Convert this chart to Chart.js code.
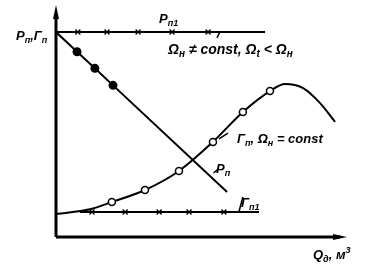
<!DOCTYPE html>
<html>
<head>
<meta charset="utf-8">
<script src="https://cdn.jsdelivr.net/npm/chart.js@4"></script>
<style>
  body { margin: 0; background: #fff; }
  #wrap { width: 369px; height: 265px; position: relative; }
</style>
</head>
<body>
<div id="wrap"><canvas id="myChart"></canvas></div>
<script>
// values (arbitrary units, origin at axes corner, 0..100)
const pn1X = [0, 7.6, 17.7, 28.5, 40.3, 52.8, 72.6];
const pn1Y = [90.3, 90.3, 90.3, 90.3, 90.3, 90.3, 90.3];

const pnX = [0, 7.3, 13.5, 19.8, 59.4];
const pnY = [90.3, 81.6, 74.3, 66.8, 19.8];

const gnX = [0, 11.8, 19.4, 30.9, 42.7, 54.5, 64.9, 74.3, 79.5, 85.8, 91.7, 96.9];
const gnY = [10.1, 12.2, 15.4, 20.7, 29.1, 41.9, 55.1, 64.3, 67.4, 65.6, 59.0, 50.7];
const gnMarked = [false, false, true, true, true, true, true, true, false, false, false, false];

const gn1X = [8.3, 12.5, 24.0, 35.8, 46.2, 58.3, 70.5];
const gn1Y = [11.0, 11.0, 11.0, 11.0, 11.0, 11.0, 11.0];

function pts(xs, ys) {
  return xs.map((x, i) => ({ x: x, y: ys[i] }));
}

// little leader strokes from curves to their labels, in data units
const leaders = [
  [[56.9, 90.3], [55.9, 87.7]],
  [[56.6, 43.2], [59.7, 45.8]],
  [[54.7, 28.2], [56.4, 30.0]],
  [[63.5, 11.0], [64.9, 17.6]]
];

function drawLabel(ctx, x, y, parts, size) {
  // parts: [text, kind] where kind n = normal, s = subscript, p = superscript
  size = size || 13;
  const small = Math.round(size * 0.7);
  let cx = x;
  parts.forEach(p => {
    const txt = p[0], kind = p[1];
    if (kind === 'n') {
      ctx.font = 'italic bold ' + size + 'px "Liberation Sans"';
      ctx.fillText(txt, cx, y);
    } else if (kind === 's') {
      ctx.font = 'italic bold ' + small + 'px "Liberation Sans"';
      ctx.fillText(txt, cx, y + 3);
    } else {
      ctx.font = 'italic bold ' + small + 'px "Liberation Sans"';
      ctx.fillText(txt, cx, y - 6);
    }
    cx += ctx.measureText(txt).width;
  });
}

const axesPlugin = {
  id: 'axesPlugin',
  afterDatasetsDraw(chart) {
    const ctx = chart.ctx;
    const xs = chart.scales.x, ys = chart.scales.y;
    const x0 = xs.getPixelForValue(0), y0 = ys.getPixelForValue(0);
    ctx.save();
    ctx.strokeStyle = '#000';
    ctx.fillStyle = '#000';
    ctx.lineWidth = 3;
    ctx.beginPath();
    ctx.moveTo(x0, y0);
    ctx.lineTo(x0, 14);
    ctx.moveTo(x0, y0);
    ctx.lineTo(340, y0);
    ctx.stroke();
    // arrow heads
    ctx.beginPath();
    ctx.moveTo(x0, 5);
    ctx.lineTo(x0 - 3, 19);
    ctx.lineTo(x0 + 3, 19);
    ctx.closePath();
    ctx.fill();
    ctx.beginPath();
    ctx.moveTo(347, y0);
    ctx.lineTo(333, y0 - 3);
    ctx.lineTo(333, y0 + 3);
    ctx.closePath();
    ctx.fill();

    // leaders
    ctx.lineWidth = 1.5;
    leaders.forEach(l => {
      ctx.beginPath();
      ctx.moveTo(xs.getPixelForValue(l[0][0]), ys.getPixelForValue(l[0][1]));
      ctx.lineTo(xs.getPixelForValue(l[1][0]), ys.getPixelForValue(l[1][1]));
      ctx.stroke();
    });

    // labels
    ctx.textBaseline = 'alphabetic';
    drawLabel(ctx, 16, 40, [['Р', 'n'], ['п', 's'], [',Г', 'n'], ['п', 's']]);
    drawLabel(ctx, 159, 23, [['Р', 'n'], ['п1', 's']]);
    drawLabel(ctx, 168, 54, [['Ω', 'n'], ['н', 's'], [' ≠ const, Ω', 'n'], ['t', 's'], [' < Ω', 'n'], ['н', 's']], 14);
    drawLabel(ctx, 237, 143, [['Г', 'n'], ['п', 's'], [', Ω', 'n'], ['н', 's'], [' = const', 'n']]);
    drawLabel(ctx, 216, 173, [['Р', 'n'], ['п', 's']]);
    drawLabel(ctx, 241, 207, [['Г', 'n'], ['п1', 's']]);
    drawLabel(ctx, 313, 259, [['Q', 'n'], ['д', 's'], [', м', 'n'], ['3', 'p']]);
    ctx.restore();
  }
};

new Chart(
  document.getElementById('myChart'),
  {
    type: 'line',
    data: {
      datasets: [
        {
          label: 'Рп1',
          data: pts(pn1X, pn1Y),
          borderColor: '#000',
          borderWidth: 2,
          pointStyle: 'crossRot',
          pointRadius: pn1X.map((x, i) => (i === 0 || i === pn1X.length - 1) ? 0 : 3.5),
          pointBorderWidth: 1.3,
          pointBorderColor: '#000',
          tension: 0
        },
        {
          label: 'Рп',
          data: pts(pnX, pnY),
          borderColor: '#000',
          borderWidth: 2,
          pointRadius: pnX.map((x, i) => (i === 0 || i === pnX.length - 1) ? 0 : 3.5),
          pointBackgroundColor: '#000',
          pointBorderColor: '#000',
          tension: 0
        },
        {
          label: 'Гп',
          data: pts(gnX, gnY),
          borderColor: '#000',
          borderWidth: 2,
          pointRadius: gnMarked.map(m => m ? 3.5 : 0),
          pointBackgroundColor: '#fff',
          pointBorderColor: '#000',
          pointBorderWidth: 1.5,
          cubicInterpolationMode: 'monotone'
        },
        {
          label: 'Гп1',
          data: pts(gn1X, gn1Y),
          borderColor: '#000',
          borderWidth: 2,
          pointStyle: 'crossRot',
          pointRadius: gn1X.map((x, i) => (i === 0 || i === gn1X.length - 1) ? 0 : 3.5),
          pointBorderWidth: 1.3,
          pointBorderColor: '#000',
          tension: 0
        }
      ]
    },
    options: {
      responsive: true,
      maintainAspectRatio: false,
      animation: false,
      layout: { padding: { left: 56, right: 25, top: 10, bottom: 28 } },
      scales: {
        x: { type: 'linear', min: 0, max: 100, display: false },
        y: { min: 0, max: 100, display: false }
      },
      plugins: {
        legend: { display: false },
        tooltip: { enabled: false }
      }
    },
    plugins: [axesPlugin]
  }
);
</script>
</body>
</html>
